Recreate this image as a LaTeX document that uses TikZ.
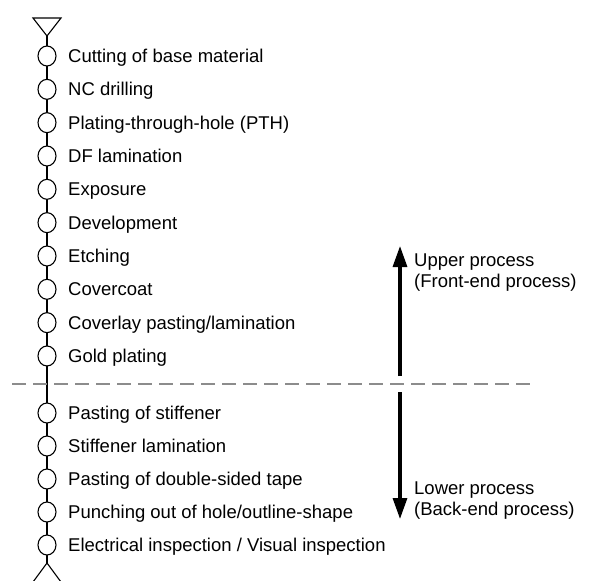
\documentclass[tikz,border=0pt]{standalone}
\usepackage{fontspec}
\setmainfont{Liberation Sans}
\usetikzlibrary{arrows.meta,shapes.geometric}
\begin{document}
\begin{tikzpicture}[x=1pt,y=-1pt,
  stepcirc/.style={draw,ellipse,minimum width=18pt,minimum height=20pt,inner sep=0pt,fill=white,line width=1.1pt},
  steptext/.style={anchor=base west,inner sep=0pt,font=\fontsize{18.5}{22}\selectfont},
  flow/.style={line width=2.8pt},
  bigarrow/.style={line width=3.2pt,-{Triangle[length=21pt,width=14pt]}}]
\useasboundingbox (0,0) rectangle (590,581);
% end markers
\coordinate (tA) at (47,36);
\coordinate (bA) at (47,563);
\draw[line width=1.1pt] (33,18) -- (61,18) -- (tA) -- cycle;
\draw[line width=1.1pt] (33,582) -- (bA) -- (61,582);
\draw[flow] (tA) -- (bA);
% upper steps
\foreach \i/\t in {0/{Cutting of base material},1/{NC drilling},2/{Plating-through-hole (PTH)},3/{DF lamination},4/{Exposure},5/{Development},6/{Etching},7/{Covercoat},8/{Coverlay pasting/lamination},9/{Gold plating}}{
  \node[stepcirc] (u\i) at (47,{56+33.33*\i}) {};
  \node[steptext] (ut\i) at (68,{56+33.33*\i+6.6}) {\t};
}
% lower steps
\foreach \i/\t in {0/{Pasting of stiffener},1/{Stiffener lamination},2/{Pasting of double-sided tape},3/{Punching out of hole/outline-shape},4/{Electrical inspection / Visual inspection}}{
  \node[stepcirc] (l\i) at (47,{413+33*\i}) {};
  \node[steptext] (lt\i) at (68,{413+33*\i+6.6}) {\t};
}
% divider
\coordinate (dL) at (12,384);
\coordinate (dR) at (530,384);
\draw[gray!90,line width=1.5pt,dash pattern=on 14pt off 7pt] (dL) -- (dR);
% process arrows
\coordinate (upS) at (400,376);
\coordinate (upE) at (400,246);
\coordinate (dnS) at (400,392);
\coordinate (dnE) at (400,519);
\draw[bigarrow] (upS) -- (upE);
\draw[bigarrow] (dnS) -- (dnE);
\node[steptext] (up1) at (414,266.6) {Upper process};
\node[steptext] (up2) at (414,287.6) {(Front-end process)};
\node[steptext] (dn1) at (414,494.6) {Lower process};
\node[steptext] (dn2) at (414,515.6) {(Back-end process)};
\end{tikzpicture}
\end{document}
